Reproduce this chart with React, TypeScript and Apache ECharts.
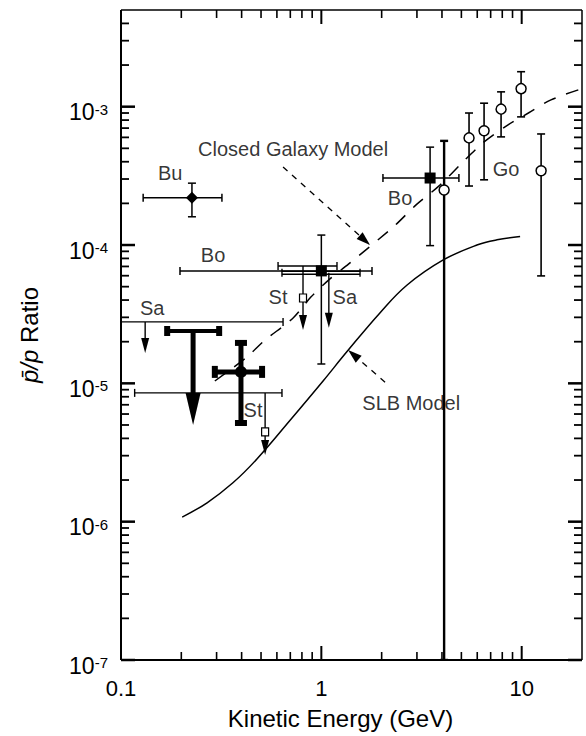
import React, { useEffect, useRef } from 'react';
import * as echarts from 'echarts';

const FONT = '"Liberation Sans", Arial, Helvetica, sans-serif';
const INK = '#000';

// Axes
const xMin = 0.1;
const xMax = 20;
const yMin = 1e-7;
const yMax = 5e-3;
const xMajorTicks = [0.1, 1, 10];
const xMinorTicks = [0.2, 0.3, 0.4, 0.5, 0.6, 0.7, 0.8, 0.9, 2, 3, 4, 5, 6, 7, 8, 9];
const yMajorTicks = [1e-7, 1e-6, 1e-5, 1e-4, 1e-3];
const yMinorTicks = [
  2e-7, 3e-7, 4e-7, 5e-7, 6e-7, 7e-7, 8e-7, 9e-7,
  2e-6, 3e-6, 4e-6, 5e-6, 6e-6, 7e-6, 8e-6, 9e-6,
  2e-5, 3e-5, 4e-5, 5e-5, 6e-5, 7e-5, 8e-5, 9e-5,
  2e-4, 3e-4, 4e-4, 5e-4, 6e-4, 7e-4, 8e-4, 9e-4,
  2e-3, 3e-3, 4e-3,
];
const xTickLabels = ['0.1', '1', '10'];

// SLB model
const slbEnergy = [0.202, 0.269, 0.362, 0.477, 0.7, 1.02, 1.34, 1.96, 2.68, 4.06, 5.98, 7.53, 9.82];
const slbRatio = [1.08e-6, 1.37e-6, 1.91e-6, 2.84e-6, 5.43e-6, 1.04e-5, 1.69e-5, 3.23e-5, 5.14e-5, 7.8e-5, 1.0e-4, 1.09e-4, 1.15e-4];

// Closed Galaxy model
const cgEnergy = [0.294, 0.425, 0.518, 0.723, 0.889, 1.09, 1.37, 2.31, 2.97, 3.92, 5.09, 6.49, 8.55, 10.8, 14.0, 20];
const cgRatio = [1.04e-5, 1.55e-5, 2.03e-5, 2.97e-5, 4.22e-5, 5.6e-5, 7.3e-5, 1.37e-4, 1.95e-4, 2.72e-4, 3.99e-4, 5.56e-4, 7.38e-4, 9.0e-4, 1.12e-3, 1.35e-3];

// Two-sided measurements: [energy, ratio, energy low, energy high, ratio low, ratio high]
const buPoint = [0.226, 2.2e-4, 0.129, 0.319, 1.6e-4, 2.8e-4];
const boLowPoint = [1.0, 6.5e-5, 0.197, 1.79, 1.38e-5, 1.18e-4];
const boHighPoint = [3.49, 3.05e-4, 2.03, 4.86, 9.9e-5, 5.1e-4];
const goEnergy = [5.46, 6.49, 7.89, 9.93, 12.5];
const goRatio = [5.95e-4, 6.7e-4, 9.6e-4, 1.35e-3, 3.44e-4];
const goRatioLow = [2.67e-4, 2.96e-4, 6.05e-4, 8.44e-4, 5.98e-5];
const goRatioHigh = [9.0e-4, 1.06e-3, 1.28e-3, 1.79e-3, 6.35e-4];
const openPoint = [4.1, 2.5e-4, 4.1, 4.1, 1e-7, 5.66e-4];
const thickPoint = [0.397, 1.21e-5, 0.294, 0.506, 5.17e-6, 1.96e-5];

// Upper limits: [arrow energy, limit, energy low, energy high, arrow tip, box ratio (0 = none), double bar]
const saLowLimit = [0.132, 2.78e-5, 0.09, 0.644, 1.66e-5, 0, 0];
const saMidLimit = [1.09, 6.3e-5, 0.636, 1.56, 2.52e-5, 0, 1];
const stMidLimit = [0.81, 7.06e-5, 0.608, 1.197, 2.43e-5, 4.14e-5, 0];
const stLowLimit = [0.524, 8.53e-6, 0.117, 0.636, 3.03e-6, 4.46e-6, 0];
const thickLimit = [0.229, 2.39e-5, 0.17, 0.309, 5.0e-6];

// Text labels
const labelText = ['Bu', 'Bo', 'Sa', 'St', 'Sa', 'St', 'Bo', 'Go', 'Closed Galaxy Model', 'SLB Model'];
const labelEnergy = [0.176, 0.288, 0.143, 0.608, 1.31, 0.456, 2.47, 8.36, 0.723, 2.81];
const labelRatio = [3.32e-4, 8.48e-5, 3.51e-5, 4.22e-5, 4.22e-5, 6.43e-6, 2.19e-4, 3.55e-4, 4.95e-4, 7.21e-6];

// Leader arrows: [from energy, from ratio, to energy, to ratio]
const leaderCG = [0.644, 3.67e-4, 1.75, 1.0e-4];
const leaderSLB = [2.08, 1.02e-5, 1.36, 1.74e-5];

const seg = (x1: number, y1: number, x2: number, y2: number, lw: number, dash?: number[]) => {
  const style: any = { stroke: INK, lineWidth: lw };
  if (dash) style.lineDash = dash;
  return { type: 'line', shape: { x1, y1, x2, y2 }, style };
};

function errorRenderer(marker: string, size: number, lw: number, cap: number) {
  return (params: any, api: any) => {
    const x = api.value(0);
    const y = api.value(1);
    const c = api.coord([x, y]);
    const xl = api.coord([api.value(2), y])[0];
    const xh = api.coord([api.value(3), y])[0];
    const yl = api.coord([x, api.value(4)])[1];
    const yh = api.coord([x, api.value(5)])[1];
    const ch: any[] = [];
    if (xh - xl > 1) {
      ch.push(seg(xl, c[1], xh, c[1], lw));
      ch.push(seg(xl, c[1] - cap, xl, c[1] + cap, lw));
      ch.push(seg(xh, c[1] - cap, xh, c[1] + cap, lw));
    }
    ch.push(seg(c[0], yh, c[0], yl, lw));
    ch.push(seg(c[0] - cap, yh, c[0] + cap, yh, lw));
    ch.push(seg(c[0] - cap, yl, c[0] + cap, yl, lw));
    const s = size / 2;
    if (marker === 'diamond') {
      ch.push({ type: 'polygon', shape: { points: [[c[0], c[1] - s], [c[0] + s, c[1]], [c[0], c[1] + s], [c[0] - s, c[1]]] }, style: { fill: INK } });
    } else if (marker === 'square') {
      ch.push({ type: 'rect', shape: { x: c[0] - s, y: c[1] - s, width: size, height: size }, style: { fill: INK } });
    } else {
      ch.push({ type: 'circle', shape: { cx: c[0], cy: c[1], r: s }, style: { fill: '#fff', stroke: INK, lineWidth: 1.5 } });
    }
    return { type: 'group', children: ch };
  };
}

function thickCrossRenderer(params: any, api: any) {
  const x = api.value(0);
  const y = api.value(1);
  const c = api.coord([x, y]);
  const xl = api.coord([api.value(2), y])[0];
  const xh = api.coord([api.value(3), y])[0];
  const yl = api.coord([x, api.value(4)])[1];
  const yh = api.coord([x, api.value(5)])[1];
  const lw = 5;
  const ch: any[] = [
    seg(xl, c[1], xh, c[1], lw),
    seg(c[0], yh, c[0], yl, lw),
    { type: 'rect', shape: { x: xl - 3, y: c[1] - 6, width: 6, height: 12 }, style: { fill: INK } },
    { type: 'rect', shape: { x: xh - 3, y: c[1] - 6, width: 6, height: 12 }, style: { fill: INK } },
    { type: 'rect', shape: { x: c[0] - 6, y: yh - 3, width: 12, height: 6 }, style: { fill: INK } },
    { type: 'rect', shape: { x: c[0] - 6, y: yl - 3, width: 12, height: 6 }, style: { fill: INK } },
    { type: 'circle', shape: { cx: c[0], cy: c[1], r: 6 }, style: { fill: INK } },
  ];
  return { type: 'group', children: ch };
}

function thickLimitRenderer(params: any, api: any) {
  const xa = api.value(0);
  const yLim = api.value(1);
  const p = api.coord([xa, yLim]);
  const xl = api.coord([api.value(2), yLim])[0];
  const xh = api.coord([api.value(3), yLim])[0];
  const tip = api.coord([xa, api.value(4)]);
  const headLen = 32;
  const headW = 15;
  return {
    type: 'group',
    children: [
      seg(xl, p[1], xh, p[1], 4),
      { type: 'rect', shape: { x: xl - 3, y: p[1] - 5, width: 6, height: 10 }, style: { fill: INK } },
      { type: 'rect', shape: { x: xh - 3, y: p[1] - 5, width: 6, height: 10 }, style: { fill: INK } },
      seg(p[0], p[1], p[0], tip[1] - headLen + 2, 5),
      { type: 'polygon', shape: { points: [[p[0] - headW / 2, tip[1] - headLen], [p[0] + headW / 2, tip[1] - headLen], [p[0], tip[1]]] }, style: { fill: INK } },
    ],
  };
}

function limitRenderer(params: any, api: any) {
  const xa = api.value(0);
  const yLim = api.value(1);
  const p = api.coord([xa, yLim]);
  const xl = api.coord([api.value(2), yLim])[0];
  const xh = api.coord([api.value(3), yLim])[0];
  const tip = api.coord([xa, api.value(4)]);
  const boxVal = api.value(5);
  const dbl = api.value(6);
  const lw = 1.4;
  const headLen = 15;
  const headW = 8;
  const ch: any[] = [];
  if (dbl) {
    ch.push(seg(xl, p[1] - 1.5, xh, p[1] - 1.5, lw));
    ch.push(seg(xl, p[1] + 1.5, xh, p[1] + 1.5, lw));
  } else {
    ch.push(seg(xl, p[1], xh, p[1], lw));
  }
  ch.push(seg(xl, p[1] - 4, xl, p[1] + 4, lw));
  ch.push(seg(xh, p[1] - 4, xh, p[1] + 4, lw));
  ch.push(seg(p[0], p[1], p[0], tip[1] - headLen + 2, lw));
  ch.push({ type: 'polygon', shape: { points: [[p[0] - headW / 2, tip[1] - headLen], [p[0] + headW / 2, tip[1] - headLen], [p[0], tip[1]]] }, style: { fill: INK } });
  if (boxVal > 0) {
    const b = api.coord([xa, boxVal]);
    ch.push({ type: 'rect', shape: { x: b[0] - 3.5, y: b[1] - 4, width: 7, height: 8 }, style: { fill: '#fff', stroke: INK, lineWidth: 1.2 } });
  }
  return { type: 'group', children: ch };
}

function leaderRenderer(params: any, api: any) {
  const a = api.coord([api.value(0), api.value(1)]);
  const b = api.coord([api.value(2), api.value(3)]);
  const dx = b[0] - a[0];
  const dy = b[1] - a[1];
  const len = Math.sqrt(dx * dx + dy * dy);
  const ux = dx / len;
  const uy = dy / len;
  const headLen = 14;
  const headW = 9;
  const bx = b[0] - ux * headLen;
  const by = b[1] - uy * headLen;
  const nx = -uy;
  const ny = ux;
  return {
    type: 'group',
    children: [
      seg(a[0], a[1], bx, by, 1.3, [6, 6]),
      { type: 'polygon', shape: { points: [[b[0], b[1]], [bx + nx * headW / 2, by + ny * headW / 2], [bx - nx * headW / 2, by - ny * headW / 2]] }, style: { fill: INK } },
    ],
  };
}

// Frame with major/minor ticks on all four sides, placed through the axes' scales
function frameRenderer(params: any, api: any) {
  const lo = api.coord([xMin, yMin]);
  const hi = api.coord([xMax, yMax]);
  const left = lo[0];
  const bottom = lo[1];
  const right = hi[0];
  const top = hi[1];
  const ch: any[] = [];
  ch.push(seg(left, top, right, top, 1.5));
  ch.push(seg(right, top, right, bottom, 1.5));
  ch.push(seg(left, top, left, bottom, 2));
  ch.push(seg(left, bottom, right, bottom, 2));
  const addX = (v: number, len: number, w: number) => {
    const x = api.coord([v, yMin])[0];
    ch.push({ type: 'rect', shape: { x: x - w / 2, y: bottom - len, width: w, height: len }, style: { fill: INK } });
    ch.push({ type: 'rect', shape: { x: x - w / 2, y: top, width: w, height: len }, style: { fill: INK } });
  };
  const addY = (v: number, len: number, w: number) => {
    const y = api.coord([xMin, v])[1];
    ch.push({ type: 'rect', shape: { x: left, y: y - w / 2, width: len, height: w }, style: { fill: INK } });
    ch.push({ type: 'rect', shape: { x: right - len, y: y - w / 2, width: len, height: w }, style: { fill: INK } });
  };
  xMajorTicks.forEach((v) => addX(v, 14, 2));
  xMinorTicks.forEach((v) => addX(v, 8, 1.6));
  yMajorTicks.forEach((v) => addY(v, 14, 2.5));
  yMinorTicks.forEach((v) => addY(v, 8, 1.8));
  return { type: 'group', children: ch };
}

export default function App() {
  const ref = useRef<HTMLDivElement>(null);
  useEffect(() => {
    if (!ref.current) return;
    const chart = echarts.init(ref.current, null, { renderer: 'svg' });
    const goData = goEnergy.map((e, i) => [e, goRatio[i], e, e, goRatioLow[i], goRatioHigh[i]]);
    const labelData = labelText.map((t, i) => ({ name: t, value: [labelEnergy[i], labelRatio[i]] }));
    const isPow10 = (v: number) => Math.abs(Math.log10(v) - Math.round(Math.log10(v))) < 1e-6;

    const option: any = {
      animation: false,
      backgroundColor: '#fff',
      grid: { left: 121, right: 4, top: 10, bottom: 76 },
      xAxis: {
        type: 'log',
        logBase: 10,
        min: xMin,
        max: xMax,
        axisLine: { show: false },
        axisTick: { show: false },
        splitLine: { show: false },
        axisLabel: {
          color: INK,
          fontFamily: FONT,
          fontSize: 22,
          margin: 17,
          formatter: (v: number) => {
            if (!isPow10(v)) return '';
            const idx = xMajorTicks.findIndex((t) => Math.abs(Math.log10(t) - Math.log10(v)) < 1e-6);
            return idx >= 0 ? xTickLabels[idx] : '';
          },
        },
        name: 'Kinetic Energy (GeV)',
        nameLocation: 'middle',
        nameGap: 46,
        nameTextStyle: { color: INK, fontFamily: FONT, fontSize: 24, padding: [0, 22, 0, 0] },
      },
      yAxis: {
        type: 'log',
        logBase: 10,
        min: yMin,
        max: yMax,
        axisLine: { show: false },
        axisTick: { show: false },
        splitLine: { show: false },
        axisLabel: {
          color: INK,
          fontFamily: FONT,
          margin: 13,
          padding: [12, 0, 0, 0],
          formatter: (v: number) => (isPow10(v) ? `{b|10}{s|${Math.round(Math.log10(v))}}` : ''),
          rich: {
            b: { fontSize: 23, lineHeight: 22, fontFamily: FONT, color: INK, padding: [4, 0, 0, 0], verticalAlign: 'bottom' },
            s: { fontSize: 15, lineHeight: 14, fontFamily: FONT, color: INK, verticalAlign: 'top' },
          },
        },
        name: '{i|p\u0304/p} Ratio',
        nameLocation: 'middle',
        nameRotate: 90,
        nameGap: 80,
        nameTextStyle: {
          color: INK,
          fontFamily: FONT,
          fontSize: 24,
          rich: { i: { fontStyle: 'italic', fontSize: 24, fontFamily: FONT, color: INK } },
        },
      },
      series: [
        {
          type: 'line', name: 'SLB Model', data: slbEnergy.map((e, i) => [e, slbRatio[i]]),
          showSymbol: false, symbol: 'none', smooth: 0.4, lineStyle: { color: INK, width: 1.5 }, z: 2,
        },
        {
          type: 'line', name: 'Closed Galaxy Model', data: cgEnergy.map((e, i) => [e, cgRatio[i]]),
          showSymbol: false, symbol: 'none', smooth: 0.3, lineStyle: { color: INK, width: 1.5, type: [13, 11] }, z: 2,
        },
        { type: 'custom', name: 'leaders', renderItem: leaderRenderer, data: [leaderCG, leaderSLB], encode: { x: 0, y: 1 }, z: 3 },
        {
          type: 'scatter', name: 'labels', data: labelData, symbolSize: 0, z: 3,
          label: { show: true, position: 'inside', formatter: '{b}', color: INK, fontFamily: FONT, fontSize: 20 },
        },
        { type: 'custom', name: 'Sa/St limits', renderItem: limitRenderer, data: [saLowLimit, saMidLimit, stMidLimit, stLowLimit], encode: { x: 0, y: 1 }, clip: true, z: 4 },
        { type: 'custom', name: 'Bu', renderItem: errorRenderer('diamond', 12, 1.5, 4), data: [buPoint], encode: { x: 0, y: 1 }, clip: true, z: 5 },
        { type: 'custom', name: 'Bo', renderItem: errorRenderer('square', 11, 1.5, 4), data: [boLowPoint, boHighPoint], encode: { x: 0, y: 1 }, clip: true, z: 5 },
        { type: 'custom', name: 'Go', renderItem: errorRenderer('open', 10, 1.6, 4), data: goData, encode: { x: 0, y: 1 }, clip: true, z: 5 },
        { type: 'custom', name: 'open', renderItem: errorRenderer('open', 10, 2.4, 4), data: [openPoint], encode: { x: 0, y: 1 }, clip: true, z: 5 },
        { type: 'custom', name: 'thick limit', renderItem: thickLimitRenderer, data: [thickLimit], encode: { x: 0, y: 1 }, clip: true, z: 6 },
        { type: 'custom', name: 'thick point', renderItem: thickCrossRenderer, data: [thickPoint], encode: { x: 0, y: 1 }, clip: true, z: 6 },
        { type: 'custom', name: 'frame', renderItem: frameRenderer, data: [[1, 1e-5]], encode: { x: 0, y: 1 }, z: 6 },
      ],
    };
    chart.setOption(option);
    return () => chart.dispose();
  }, []);
  return <div ref={ref} style={{ position: 'absolute', left: 0, top: 0, width: 586, height: 736, background: '#fff' }} />;
}
